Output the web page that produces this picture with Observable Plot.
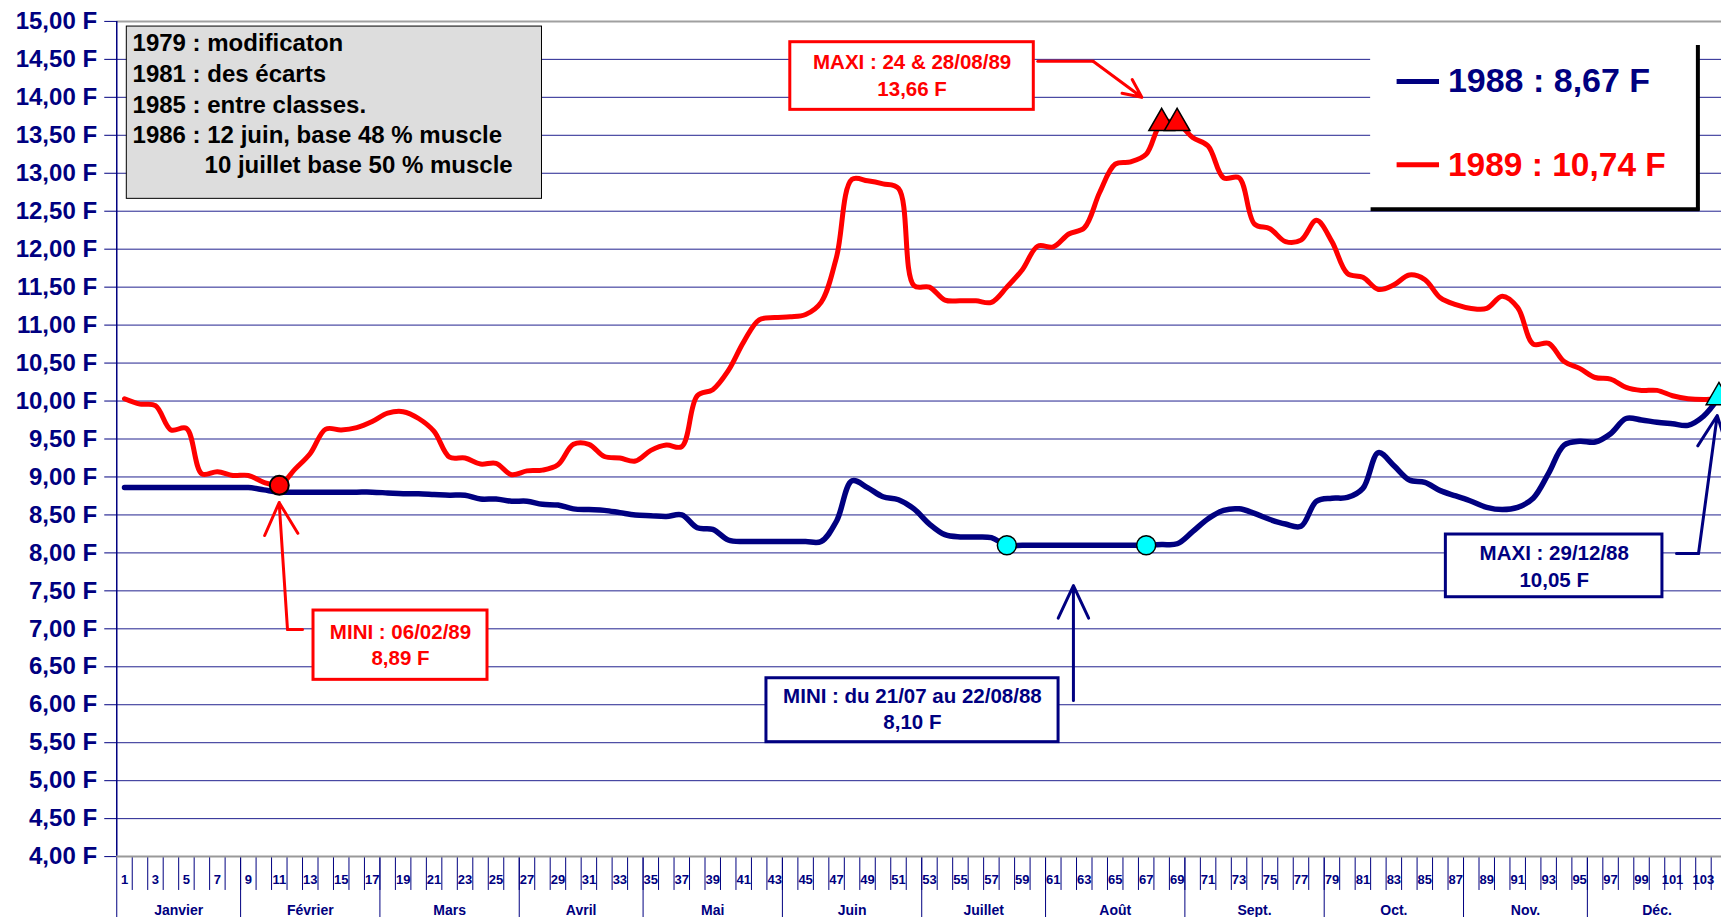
<!DOCTYPE html>
<html><head><meta charset="utf-8">
<script src="https://cdn.jsdelivr.net/npm/d3@7"></script>
<script src="https://cdn.jsdelivr.net/npm/@observablehq/plot@0.6"></script>
<style>
html,body{margin:0;padding:0;background:#fff;overflow:hidden;}
</style>
</head><body><div id="chart"></div>
<script>
// ---------- data ----------
const categories = d3.range(1, 105);
const xTickLabels = categories.filter(c => c % 2 === 1);
const monthNames = ["Janvier","Février","Mars","Avril","Mai","Juin","Juillet","Août","Sept.","Oct.","Nov.","Déc."];
const monthLastIndex = [8,17,26,34,43,52,60,69,78,87,95,104];
const yTickValues = [4,4.5,5,5.5,6,6.5,7,7.5,8,8.5,9,9.5,10,10.5,11,11.5,12,12.5,13,13.5,14,14.5,15];

const prices1988 = [
  8.86,8.86,8.86,8.86,8.86,8.86,8.86,8.86,8.86,8.83,
  8.80,8.80,8.80,8.80,8.80,8.80,8.80,8.79,8.78,8.78,
  8.77,8.76,8.76,8.71,8.71,8.68,8.68,8.64,8.63,8.58,
  8.57,8.56,8.53,8.50,8.49,8.48,8.50,8.33,8.31,8.17,
  8.15,8.15,8.15,8.15,8.15,8.15,8.42,8.95,8.86,8.74,
  8.70,8.58,8.38,8.24,8.21,8.21,8.20,8.10,8.10,8.10,
  8.10,8.10,8.10,8.10,8.10,8.10,8.10,8.11,8.12,8.28,
  8.45,8.56,8.58,8.52,8.44,8.38,8.35,8.68,8.72,8.73,
  8.85,9.32,9.15,8.96,8.93,8.82,8.75,8.68,8.60,8.57,
  8.60,8.72,9.05,9.42,9.47,9.46,9.57,9.77,9.75,9.72,
  9.70,9.68,9.80,10.05
];
const prices1989 = [
  10.03,9.96,9.94,9.62,9.64,9.04,9.07,9.02,9.02,8.93,
  8.89,9.10,9.31,9.63,9.62,9.65,9.73,9.84,9.86,9.77,
  9.60,9.26,9.25,9.17,9.18,9.03,9.08,9.09,9.16,9.43,
  9.43,9.27,9.25,9.21,9.35,9.42,9.40,10.07,10.15,10.40,
  10.78,11.07,11.10,11.11,11.14,11.30,11.90,12.92,12.90,12.86,
  12.80,11.52,11.50,11.33,11.32,11.32,11.30,11.50,11.73,12.04,
  12.03,12.20,12.28,12.75,13.12,13.15,13.25,13.66,13.66,13.47,
  13.36,12.94,12.94,12.33,12.27,12.10,12.12,12.38,12.10,11.68,
  11.63,11.47,11.53,11.66,11.60,11.36,11.27,11.22,11.22,11.38,
  11.23,10.75,10.76,10.52,10.43,10.31,10.29,10.18,10.14,10.14,
  10.07,10.03,10.02,10.03
];

const noteLines = ["1979 : modificaton","1981 : des écarts","1985 : entre classes.","1986 : 12 juin, base 48 % muscle","10 juillet base 50 % muscle"];
const legendLabels = ["1988 : 8,67 F","1989 : 10,74 F"];
const maxi89Text = ["MAXI : 24 & 28/08/89","13,66 F"];
const mini89Text = ["MINI : 06/02/89","8,89 F"];
const mini88Text = ["MINI : du 21/07 au 22/08/88","8,10 F"];
const maxi88Text = ["MAXI : 29/12/88","10,05 F"];

// ---------- derived tables ----------
const navy = "#000080", red = "#FF0000";
const fmt = v => v.toFixed(2).replace(".", ",") + " F";
const s88 = categories.map((c, i) => ({c, v: prices1988[i]}));
const s89 = categories.map((c, i) => ({c, v: prices1989[i]}));
const min89 = d3.min(prices1989), max89 = d3.max(prices1989);
const min88 = d3.min(prices1988), max88 = d3.max(prices1988);
const redMin = s89.filter(d => d.v === min89);
const redMax = s89.filter(d => d.v === max89);
const blueMinAll = s88.filter(d => d.v === min88);
const blueMin = [blueMinAll[0], blueMinAll[blueMinAll.length - 1]];
const blueMax = s88.filter(d => d.v === max88);
const monthTable = monthNames.map((name, i) => {
  const first = i ? monthLastIndex[i - 1] + 1 : 1, last = monthLastIndex[i];
  return {name, mid: (first + last) / 2};
});
const monthBounds = [0.5, ...monthLastIndex.map(e => e + 0.5)];
const catBounds = categories.map(c => c + 0.5);
const noteTable = noteLines.map((t, i) => ({t, i}));

const txt = (lines, x, ys, fill, size) =>
  Plot.text(lines, {x, y: (d, i) => ys[i], text: d => d, fill, fontSize: size, fontWeight: "bold"});

const chart = Plot.plot({
  width: 1721, height: 917,
  marginLeft: 116.26, marginRight: 0, marginTop: 20.9, marginBottom: 60.9,
  x: {type: "linear", domain: [0.5, 104.5], range: [116.26, 1726.18], axis: null},
  y: {type: "linear", domain: [4, 15], range: [856.1, 20.9], axis: null},
  style: {fontFamily: "'Liberation Sans', Arial, sans-serif", background: "#fff"},
  marks: [
    // grid
    Plot.ruleY(yTickValues.filter(v => v > 4 && v < 15), {stroke: "#22228f", strokeWidth: 1}),
    Plot.ruleY([15], {stroke: "#a0a0a0", strokeWidth: 2}),
    // y axis
    Plot.ruleY(yTickValues, {x1: -0.275, x2: 0.5, stroke: navy, strokeWidth: 1}),
    Plot.ruleX([0.5], {y1: 4, y2: 15, stroke: navy, strokeWidth: 1.5}),
    Plot.text(yTickValues, {x: 0.5, y: d => d, dx: -19.7, text: fmt, textAnchor: "end", fill: navy, fontSize: 24, fontWeight: "bold"}),
    // x axis
    Plot.ruleX(catBounds, {y1: 4, y2: 3.554, stroke: navy, strokeWidth: 1}),
    Plot.ruleX(monthBounds, {y1: 4, y2: 3.0, stroke: navy, strokeWidth: 1}),
    Plot.ruleY([4], {stroke: "#999", strokeWidth: 2}),
    Plot.text(xTickLabels, {x: d => d, y: 4, dy: 22.9, text: d => String(d), fill: navy, fontSize: 13, fontWeight: "bold"}),
    Plot.text(monthTable, {x: "mid", y: 4, dy: 53.5, text: "name", fill: navy, fontSize: 14, fontWeight: "bold"}),
    // note box
    Plot.rect([0], {x1: 1.149, x2: 27.97, y1: 12.663, y2: 14.932, fill: "#DDDDDD", stroke: "#000", strokeWidth: 1}),
    Plot.text(noteTable, {x: d => d.i === 4 ? 6.17 : 1.52, y: d => [14.705, 14.30, 13.892, 13.497, 13.102][d.i], text: "t", textAnchor: "start", fill: "#000", fontSize: 24, fontWeight: "bold"}),
    // legend box
    Plot.rect([0], {x1: 81.5, x2: 102.6, y1: 12.53, y2: 14.75, fill: "#fff"}),
    Plot.ruleX([102.64], {y1: 12.50, y2: 14.682, stroke: "#000", strokeWidth: 4}),
    Plot.ruleY([12.526], {x1: 81.53, x2: 102.77, stroke: "#000", strokeWidth: 4}),
    Plot.ruleY([14.208], {x1: 83.21, x2: 85.95, stroke: navy, strokeWidth: 5}),
    Plot.ruleY([13.111], {x1: 83.21, x2: 85.95, stroke: red, strokeWidth: 5}),
    Plot.text([legendLabels[0]], {x: 86.49, y: 14.208, text: d => d, textAnchor: "start", fill: navy, fontSize: 34, fontWeight: "bold"}),
    Plot.text([legendLabels[1]], {x: 86.49, y: 13.111, text: d => d, textAnchor: "start", fill: red, fontSize: 33.5, fontWeight: "bold"}),
    // red MAXI annotation
    Plot.rect([0], {x1: 44.01, x2: 59.74, y1: 13.835, y2: 14.726, fill: "#fff", stroke: red, strokeWidth: 3}),
    txt(maxi89Text, 51.88, [14.454, 14.099], red, 20.5),
    Plot.line([[60.0, 14.475], [63.57, 14.475]], {stroke: red, strokeWidth: 3}),
    Plot.arrow([0], {x1: 63.57, y1: 14.475, x2: 66.72, y2: 14.0, stroke: red, strokeWidth: 3, headLength: 18, headAngle: 50}),
    // red MINI annotation
    Plot.rect([0], {x1: 13.21, x2: 24.45, y1: 6.328, y2: 7.241, fill: "#fff", stroke: red, strokeWidth: 3}),
    txt(mini89Text, 18.83, [6.955, 6.605], red, 20.5),
    Plot.line([[12.5, 6.991], [11.53, 6.991]], {stroke: red, strokeWidth: 3}),
    Plot.arrow([0], {x1: 11.53, y1: 6.991, x2: 10.99, y2: 8.663, stroke: red, strokeWidth: 3, headLength: 18, headAngle: 55}),
    // navy MINI annotation
    Plot.rect([0], {x1: 42.47, x2: 61.34, y1: 5.507, y2: 6.349, fill: "#fff", stroke: navy, strokeWidth: 3}),
    txt(mini88Text, 51.9, [6.109, 5.766], navy, 20.5),
    Plot.arrow([0], {x1: 62.3, y1: 6.056, x2: 62.3, y2: 7.57, stroke: navy, strokeWidth: 3, headLength: 18, headAngle: 50}),
    // navy MAXI annotation
    Plot.rect([0], {x1: 86.36, x2: 100.35, y1: 7.416, y2: 8.242, fill: "#fff", stroke: navy, strokeWidth: 3}),
    txt(maxi88Text, 93.36, [7.996, 7.636], navy, 20.5),
    Plot.line([[101.26, 7.992], [102.68, 7.992]], {stroke: navy, strokeWidth: 3}),
    Plot.arrow([0], {x1: 102.68, y1: 7.992, x2: 103.89, y2: 9.809, stroke: navy, strokeWidth: 3, headLength: 18, headAngle: 50}),
    // series
    Plot.line(s88, {x: "c", y: "v", stroke: navy, strokeWidth: 5.5, curve: "catmull-rom"}),
    Plot.line(s89, {x: "c", y: "v", stroke: red, strokeWidth: 5, curve: "catmull-rom"}),
    // markers
    Plot.dot(blueMin, {x: "c", y: "v", r: 9.5, fill: "#00FFFF", stroke: "#000", strokeWidth: 1.5}),
    Plot.dot(blueMax, {x: "c", y: "v", r: 9.5, symbol: "triangle", fill: "#00FFFF", stroke: "#000", strokeWidth: 1.5}),
    Plot.dot(redMin, {x: "c", y: "v", r: 9.5, fill: red, stroke: "#000", strokeWidth: 2}),
    Plot.dot(redMax, {x: "c", y: "v", r: 9.5, symbol: "triangle", fill: red, stroke: "#000", strokeWidth: 1.5})
  ]
});
document.getElementById("chart").appendChild(chart);
</script>
</body></html>
